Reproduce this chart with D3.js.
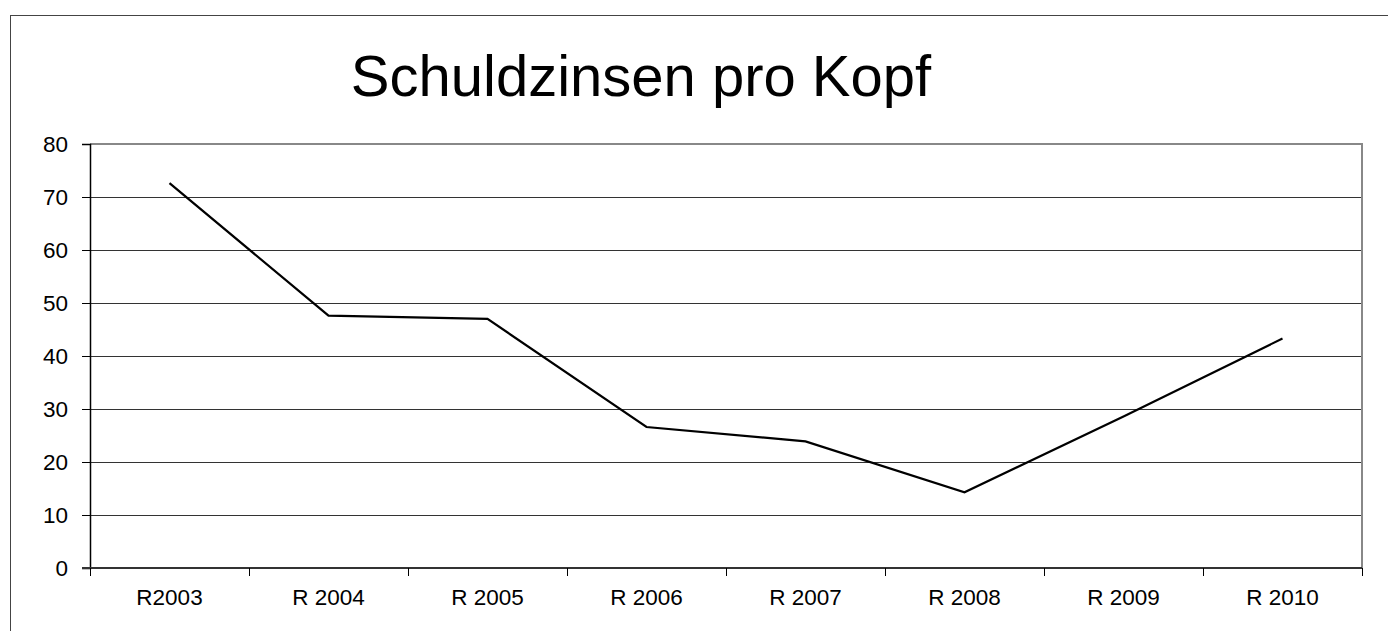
<!DOCTYPE html>
<html>
<head>
<meta charset="utf-8">
<script src="https://cdn.jsdelivr.net/npm/d3@7"></script>
<style>
  html, body { margin: 0; padding: 0; background: #fff; }
  svg { display: block; font-family: Arial, "Liberation Sans", sans-serif; }
</style>
</head>
<body>
<svg id="chart" width="1388" height="631"></svg>
<script>
const title = "Schuldzinsen pro Kopf";
const categories = ["R2003", "R 2004", "R 2005", "R 2006", "R 2007", "R 2008", "R 2009", "R 2010"];
const values = [72.6, 47.6, 47.0, 26.6, 23.9, 14.3, 28.6, 43.3];
const yTicks = [0, 10, 20, 30, 40, 50, 60, 70, 80];

const svg = d3.select("#chart");
const W = 1388, H = 631;
const m = { left: 90, top: 144, right: 1362, bottom: 568 };

// outer frame (extends beyond right/bottom edges)
svg.append("rect")
  .attr("x", 10.5).attr("y", 15.5)
  .attr("width", W + 20).attr("height", H + 20)
  .attr("fill", "#fff").attr("stroke", "#444").attr("stroke-width", 1);

const x = d3.scaleBand().domain(categories).range([m.left, m.right]).padding(0);
const y = d3.scaleLinear().domain([0, 80]).range([m.bottom, m.top]);

// gridlines
svg.append("g").selectAll("line")
  .data(yTicks.filter(d => d > 0 && d < 80))
  .join("line")
  .attr("x1", m.left).attr("x2", m.right)
  .attr("y1", d => Math.round(y(d)) + 0.5).attr("y2", d => Math.round(y(d)) + 0.5)
  .attr("stroke", "#333").attr("stroke-width", 1);

// plot top and right border (gray)
svg.append("line")
  .attr("x1", m.left).attr("x2", m.right + 1)
  .attr("y1", m.top).attr("y2", m.top)
  .attr("stroke", "#888").attr("stroke-width", 2);
svg.append("line")
  .attr("x1", m.right).attr("x2", m.right)
  .attr("y1", m.top).attr("y2", m.bottom)
  .attr("stroke", "#888").attr("stroke-width", 2);

// Y axis
const yAxis = d3.axisLeft(y).tickValues(yTicks).tickSize(8).tickPadding(14);
const gy = svg.append("g").attr("transform", `translate(${m.left},0)`).call(yAxis);
gy.select(".domain").attr("stroke", "#000").attr("stroke-width", 1.5);
gy.selectAll(".tick line").attr("stroke", "#000");
gy.selectAll(".tick text").attr("font-size", 22.5).attr("fill", "#000")
  .attr("font-family", "Arial, 'Liberation Sans', sans-serif");

// X axis with ticks at band boundaries
const gx = svg.append("g").attr("transform", `translate(0,${m.bottom})`);
gx.append("line")
  .attr("x1", m.left - 8).attr("x2", m.right)
  .attr("y1", 0).attr("y2", 0)
  .attr("stroke", "#333").attr("stroke-width", 2);
const boundaries = categories.map(c => x(c)).concat([x(categories[categories.length - 1]) + x.bandwidth()]);
gx.selectAll("line.tk").data(boundaries).join("line").attr("class", "tk")
  .attr("x1", d => Math.round(d) + 0.5).attr("x2", d => Math.round(d) + 0.5)
  .attr("y1", 0).attr("y2", 8)
  .attr("stroke", "#000").attr("stroke-width", 1);
gx.selectAll("text").data(categories).join("text")
  .attr("x", d => x(d) + x.bandwidth() / 2)
  .attr("y", 37)
  .attr("text-anchor", "middle")
  .attr("font-size", 22.5)
  .attr("fill", "#000")
  .text(d => d);

// line
const line = d3.line()
  .x((d, i) => x(categories[i]) + x.bandwidth() / 2)
  .y(d => y(d));
svg.append("path")
  .datum(values)
  .attr("d", line)
  .attr("fill", "none")
  .attr("stroke", "#000")
  .attr("stroke-width", 2.2)
  .attr("stroke-linejoin", "miter");

// title
svg.append("text")
  .attr("x", 641).attr("y", 96)
  .attr("text-anchor", "middle")
  .attr("font-size", 58)
  .attr("fill", "#000")
  .text(title);
</script>
</body>
</html>
